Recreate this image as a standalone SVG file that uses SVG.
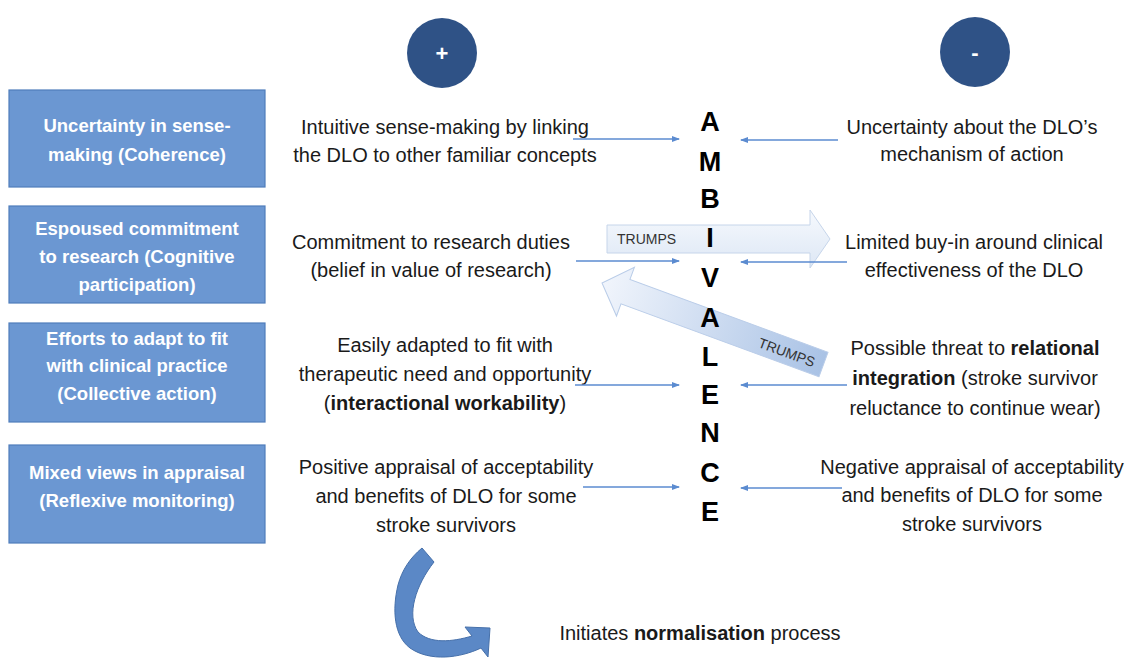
<svg xmlns="http://www.w3.org/2000/svg" width="1135" height="662" viewBox="0 0 1135 662">
<style>
.box{fill:#6b97d2;stroke:#4f7dbb;stroke-width:1.2}
.bt{font-family:"Liberation Sans",Arial,sans-serif;font-size:18.5px;font-weight:bold;fill:#ffffff;text-anchor:middle}
.t{font-family:"Liberation Sans",Arial,sans-serif;font-size:20px;fill:#1a1a1a;text-anchor:middle}
.b{font-weight:bold}
.amb{font-family:"Liberation Sans",Arial,sans-serif;font-size:27px;font-weight:bold;fill:#000;text-anchor:middle}
.circ{fill:#2f5286}
.sign{font-family:"Liberation Sans",Arial,sans-serif;font-size:22px;font-weight:bold;fill:#fff;text-anchor:middle}
.con{stroke:#5b8bd0;stroke-width:1.3;fill:none;marker-end:url(#ah)}
.tr{font-family:"Liberation Sans",Arial,sans-serif;font-size:14px;fill:#333}
</style>
<defs>
<marker id="ah" markerWidth="8" markerHeight="8" refX="7" refY="4" orient="auto" markerUnits="userSpaceOnUse">
<path d="M0,1 L8,4 L0,7 Z" fill="#5b8bd0"/>
</marker>
<linearGradient id="gh" x1="0" y1="0" x2="0" y2="1">
<stop offset="0" stop-color="#f6f9fd"/>
<stop offset="1" stop-color="#dde7f5"/>
</linearGradient>
<linearGradient id="gd" x1="0" y1="0" x2="1" y2="0">
<stop offset="0" stop-color="#a9c2e5"/>
<stop offset="1" stop-color="#f1f5fc"/>
</linearGradient>
</defs>
<rect width="1135" height="662" fill="#ffffff"/>

<g id="plus">
<circle class="circ" cx="442" cy="53" r="35"/>
<text class="sign" x="442" y="61">+</text>
</g>
<g id="minus">
<circle class="circ" cx="975" cy="52" r="35"/>
<text class="sign" x="975" y="60">-</text>
</g>

<g id="box1">
<rect class="box" x="9" y="90" width="256" height="97"/>
<text class="bt" x="137" y="132">Uncertainty in sense-</text>
<text class="bt" x="137" y="161">making (Coherence)</text>
</g>
<g id="box2">
<rect class="box" x="9" y="206" width="256" height="97"/>
<text class="bt" x="137" y="235">Espoused commitment</text>
<text class="bt" x="137" y="263">to research (Cognitive</text>
<text class="bt" x="137" y="291">participation)</text>
</g>
<g id="box3">
<rect class="box" x="9" y="323" width="256" height="99"/>
<text class="bt" x="137" y="345">Efforts to adapt to fit</text>
<text class="bt" x="137" y="372">with clinical practice</text>
<text class="bt" x="137" y="400">(Collective action)</text>
</g>
<g id="box4">
<rect class="box" x="9" y="445" width="256" height="98"/>
<text class="bt" x="137" y="479">Mixed views in appraisal</text>
<text class="bt" x="137" y="507">(Reflexive monitoring)</text>
</g>

<g id="trumps1">
<path d="M607,225 L810,225 L810,210 L830,239 L810,268 L810,253 L607,253 Z" fill="url(#gh)" stroke="#c6d5ea" stroke-width="1"/>
<text class="tr" x="617" y="244">TRUMPS</text>
</g>
<g id="trumps2">
<path d="M0,-13 L211,-13 L211,-26 L236,0 L211,26 L211,13 L0,13 Z" transform="translate(823.5,364.5) rotate(200.2)" fill="url(#gd)" stroke="#b9cce8" stroke-width="1"/>
<text class="tr" transform="translate(785,357) rotate(20.2)" text-anchor="middle">TRUMPS</text>
</g>

<g id="ambivalence">
<text class="amb" x="710" y="131">A</text>
<text class="amb" x="710" y="171">M</text>
<text class="amb" x="710" y="208">B</text>
<text class="amb" x="710" y="247">I</text>
<text class="amb" x="710" y="287">V</text>
<text class="amb" x="710" y="327">A</text>
<text class="amb" x="710" y="366">L</text>
<text class="amb" x="710" y="404">E</text>
<text class="amb" x="710" y="442">N</text>
<text class="amb" x="710" y="482">C</text>
<text class="amb" x="710" y="521">E</text>
</g>

<g id="pos1">
<text class="t" x="445" y="134">Intuitive sense-making by linking</text>
<text class="t" x="445" y="162">the DLO to other familiar concepts</text>
</g>
<g id="pos2">
<text class="t" x="431" y="249">Commitment to research duties</text>
<text class="t" x="431" y="277">(belief in value of research)</text>
</g>
<g id="pos3">
<text class="t" x="445" y="352">Easily adapted to fit with</text>
<text class="t" x="445" y="381">therapeutic need and opportunity</text>
<text class="t" x="445" y="410">(<tspan class="b">interactional workability</tspan>)</text>
</g>
<g id="pos4">
<text class="t" x="446" y="474">Positive appraisal of acceptability</text>
<text class="t" x="446" y="503">and benefits of DLO for some</text>
<text class="t" x="446" y="532">stroke survivors</text>
</g>

<g id="neg1">
<text class="t" x="972" y="134">Uncertainty about the DLO’s</text>
<text class="t" x="972" y="161">mechanism of action</text>
</g>
<g id="neg2">
<text class="t" x="974" y="249">Limited buy-in around clinical</text>
<text class="t" x="974" y="277">effectiveness of the DLO</text>
</g>
<g id="neg3">
<text class="t" x="975" y="355">Possible threat to <tspan class="b">relational</tspan></text>
<text class="t" x="975" y="385"><tspan class="b">integration</tspan> (stroke survivor</text>
<text class="t" x="975" y="415">reluctance to continue wear)</text>
</g>
<g id="neg4">
<text class="t" x="972" y="474">Negative appraisal of acceptability</text>
<text class="t" x="972" y="502">and benefits of DLO for some</text>
<text class="t" x="972" y="531">stroke survivors</text>
</g>

<g id="connectors">
<line class="con" x1="573" y1="139" x2="679" y2="139"/>
<line class="con" x1="576" y1="261" x2="679" y2="261"/>
<line class="con" x1="575" y1="385" x2="679" y2="385"/>
<line class="con" x1="583" y1="487" x2="679" y2="487"/>
<line class="con" x1="838" y1="140" x2="741" y2="140"/>
<line class="con" x1="847" y1="262" x2="741" y2="262"/>
<line class="con" x1="847" y1="385" x2="741" y2="385"/>
<line class="con" x1="842" y1="488" x2="741" y2="488"/>
</g>

<g id="curved-arrow">
<path d="M422,548 L434,562 C416,585 406,615 418,632 C430,644 452,642 472,636 L465,627 L490,628 L488,657 L481,648 C460,658 430,662 410,648 C394,636 392,610 398,585 C402,570 410,558 422,548 Z" fill="#5b88c6" stroke="#4670aa" stroke-width="1"/>
</g>
<g id="normalisation">
<text class="t" x="700" y="640">Initiates <tspan class="b">normalisation</tspan> process</text>
</g>
</svg>
